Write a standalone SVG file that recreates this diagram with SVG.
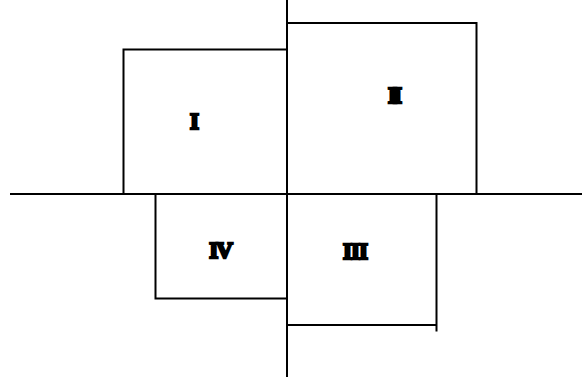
<svg xmlns="http://www.w3.org/2000/svg" width="586" height="380" viewBox="0 0 586 380">
<style>
.edge{fill:none;stroke:#000;stroke-width:2}
.lbl{font-family:"Liberation Serif","DejaVu Serif",serif;font-weight:bold;font-size:23px;fill:#000;stroke:#000;stroke-width:2.4;stroke-linejoin:miter;text-anchor:middle}
</style>
<rect width="586" height="380" fill="#fff"/>
<g id="axes">
<line class="edge" x1="10" y1="194" x2="582" y2="194"/>
<line class="edge" x1="287" y1="0" x2="287" y2="377"/>
</g>
<g id="box-I">
<polyline class="edge" points="123.5,194 123.5,49.5 287,49.5"/>
<text class="lbl" x="194.5" y="128.5">I</text>
</g>
<g id="box-II">
<polyline class="edge" points="287,23 476.5,23 476.5,194"/>
<text class="lbl" x="393" y="102.5" letter-spacing="-4">II</text>
</g>
<g id="box-IV">
<polyline class="edge" points="155.5,194 155.5,298.5 287,298.5"/>
<text class="lbl" x="220" y="258" letter-spacing="-2">IV</text>
</g>
<g id="box-III">
<polyline class="edge" points="287,325 436.5,325"/>
<line class="edge" x1="436.5" y1="194" x2="436.5" y2="331.5"/>
<text class="lbl" x="355" y="258.5" letter-spacing="-1">III</text>
</g>
</svg>
